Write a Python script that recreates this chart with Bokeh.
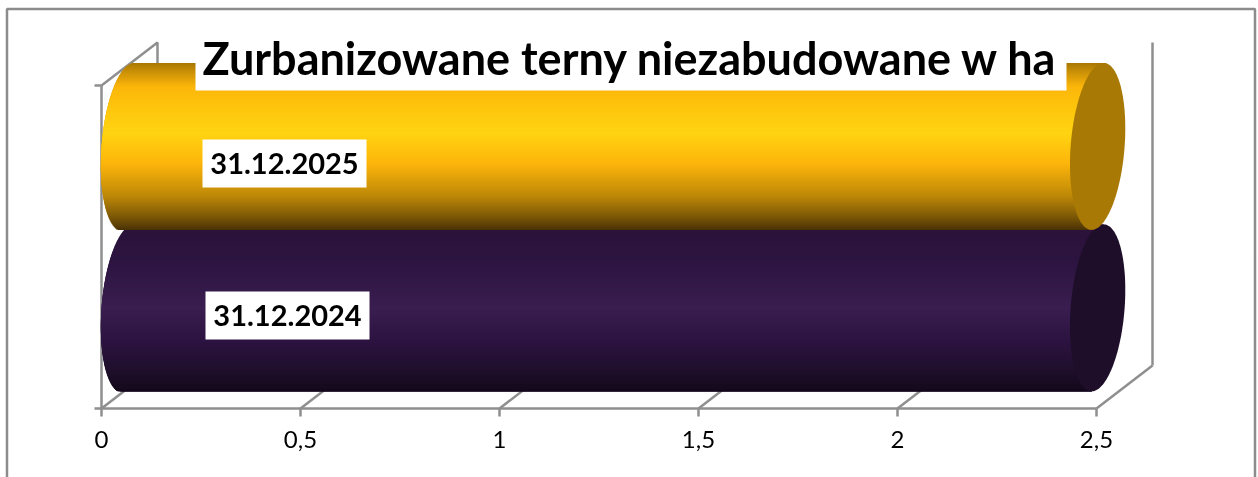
import numpy as np
from bokeh.core.properties import value
from bokeh.embed import file_html
from bokeh.models import ColumnDataSource, FixedTicker, LinearAxis, Range1d
from bokeh.plotting import figure
from bokeh.resources import INLINE

title = "Zurbanizowane terny niezabudowane w ha"
categories = ["31.12.2024", "31.12.2025"]
values = [2.435, 2.435]
tick_values = [0, 0.5, 1, 1.5, 2, 2.5]
tick_labels = ["0", "0,5", "1", "1,5", "2", "2,5"]

W, H = 1258, 477
PX_X, PX_Y = 398.0, 161.5
GREY = "#8f8f8f"
FONT = "Lato"


def X(px):
    return (px - 101) / PX_X


def Y(py):
    return -0.5 + (408 - py) / PX_Y


def hex2rgb(c):
    return np.array([int(c[i:i + 2], 16) for i in (1, 3, 5)], dtype=float)


def rgb2hex(c):
    return "#%02x%02x%02x" % tuple(int(round(v)) for v in c)


# gradient stops: fraction from the top of the cylinder, colour
styles = [
    dict(stops=[(0, "#2a1239"), (0.25, "#2e1542"), (0.5, "#3a1e50"), (0.7, "#2c1340"), (0.85, "#21102f"), (1, "#13091b")],
         cap="#1e0e2a", base="#2c1340"),
    dict(stops=[(0, "#a87803"), (0.05, "#c88f06"), (0.14, "#fbb50a"), (0.28, "#fec70d"), (0.42, "#ffd311"),
                (0.6, "#fdb50a"), (0.8, "#bc8707"), (0.92, "#7c5806"), (1, "#4a3206")],
         cap="#a87a05", base="#c88f06"),
]

DEPTH_X, DEPTH_Y = 56 / PX_X, 43 / PX_Y
CAP_A = 27 / PX_X
CAP_S = 6 / PX_X
HALF = 83.5 / PX_Y
MID_X = 27 / PX_X
MID_Y = 0.123

p = figure(width=W, height=H, output_backend="svg", toolbar_location=None,
           x_range=Range1d(X(0), X(W)), y_range=Range1d(Y(H), Y(0)),
           min_border=0, min_border_left=0, min_border_right=0, min_border_top=0, min_border_bottom=0,
           x_axis_type=None, y_axis_type=None, outline_line_color=None, background_fill_color="white",
           border_fill_color="white")
p.styles = {"position": "fixed", "left": "0", "top": "0"}
p.grid.visible = False

# outer chart border (open at the bottom: it runs past the picture)
p.line([X(6.5)] * 2 + [X(1254.5)] * 2, [Y(H + 5), Y(8.5), Y(8.5), Y(H + 5)], line_color="#8c8c8c", line_width=2.5)

x_end = tick_values[-1]
y_lo, y_hi = -0.5, 1.5

# 3-D walls, behind the cylinders
for t in tick_values:
    p.line([t, t + DEPTH_X], [y_lo, y_lo + DEPTH_Y], line_color=GREY, line_width=2.5)
p.line([0, DEPTH_X, DEPTH_X], [y_hi, y_hi + DEPTH_Y, y_lo + DEPTH_Y], line_color=GREY, line_width=2.5)
p.line([x_end + DEPTH_X] * 2, [y_hi + DEPTH_Y, y_lo + DEPTH_Y], line_color=GREY, line_width=2.5)

xaxis = LinearAxis(fixed_location=y_lo, ticker=FixedTicker(ticks=tick_values),
                   major_label_overrides=dict(zip(tick_values, tick_labels)),
                   bounds=(0, x_end), axis_line_color=GREY, axis_line_width=2.5,
                   major_tick_line_color=GREY, major_tick_line_width=2.5,
                   major_tick_in=0, major_tick_out=8, minor_tick_line_color=None,
                   major_label_text_font=FONT, major_label_text_font_size="24px",
                   major_label_text_color="black", major_label_standoff=14, level="underlay")
p.add_layout(xaxis, "below")
yaxis = LinearAxis(fixed_location=0, ticker=FixedTicker(ticks=[y_lo, y_hi]),
                   bounds=(y_lo, y_hi), axis_line_color=GREY, axis_line_width=2.5,
                   major_tick_line_color=GREY, major_tick_line_width=2.5,
                   major_tick_in=0, major_tick_out=7, minor_tick_line_color=None,
                   major_label_text_alpha=0, major_label_text_font_size="1px", level="underlay")
p.add_layout(yaxis, "left")

# cylinders
theta = np.linspace(0, 2 * np.pi, 181)
half_t = np.linspace(np.pi / 2, 3 * np.pi / 2, 91)
n_strips = 167
step = HALF * 2 / n_strips
for i, (cat, v, st) in enumerate(zip(categories, values, styles)):
    yc = i + MID_Y
    # solid body under the shading strips, so that nothing shows through
    body_x = list(MID_X + CAP_A * np.cos(half_t) + CAP_S * np.sin(half_t)) + [v + MID_X - CAP_S, v + MID_X + CAP_S]
    body_y = list(yc + HALF * np.sin(half_t)) + [yc - HALF, yc + HALF]
    p.patch(body_x, body_y, fill_color=st["base"], fill_alpha=1.0, line_color=None)

    u = np.linspace(1, -1, n_strips, endpoint=False) - 1.0 / n_strips
    frac = (1 - u) / 2
    fr = [s[0] for s in st["stops"]]
    rgb = np.array([hex2rgb(s[1]) for s in st["stops"]])
    cols = [rgb2hex([np.interp(f, fr, rgb[:, k]) for k in range(3)]) for f in frac]
    left = MID_X + CAP_S * u - CAP_A * np.sqrt(np.clip(1 - u ** 2, 0, 1))
    right = v + MID_X + CAP_S * u
    top = yc + HALF * u + step / 2
    bottom = np.maximum(top - 2.5 * step, yc - HALF)
    src = ColumnDataSource(dict(top=top, bottom=bottom, left=left, right=right, color=cols))
    p.quad(top="top", bottom="bottom", left="left", right="right", fill_color="color",
           fill_alpha=1.0, line_color=None, source=src)
    p.patch(v + MID_X + CAP_A * np.cos(theta) + CAP_S * np.sin(theta), yc + HALF * np.sin(theta),
            fill_color=st["cap"], fill_alpha=1.0, line_color=None)

# data labels (category names in white boxes)
label_px = [(205, 369, 291, 339), (202, 366, 139, 187)]
for cat, (x0, x1, y0, y1) in zip(categories, label_px):
    p.quad(left=X(x0), right=X(x1), top=Y(y0), bottom=Y(y1), fill_color="white", fill_alpha=1.0, line_color=None)
    p.text([X((x0 + x1) / 2)], [Y((y0 + y1) / 2)], text=[cat], text_font=value(FONT), text_font_style="bold",
           text_font_size="29px", text_color="black", text_align="center", text_baseline="middle")

# title in its white box
p.quad(left=X(195), right=X(1066), top=Y(30), bottom=Y(90), fill_color="white", fill_alpha=1.0, line_color=None)
p.text([X(630)], [Y(57.5)], text=[title], text_font=value(FONT), text_font_style="bold",
       text_font_size="45px", text_color="black", text_align="center", text_baseline="middle")

open("out.html", "w").write(file_html(p, INLINE))
